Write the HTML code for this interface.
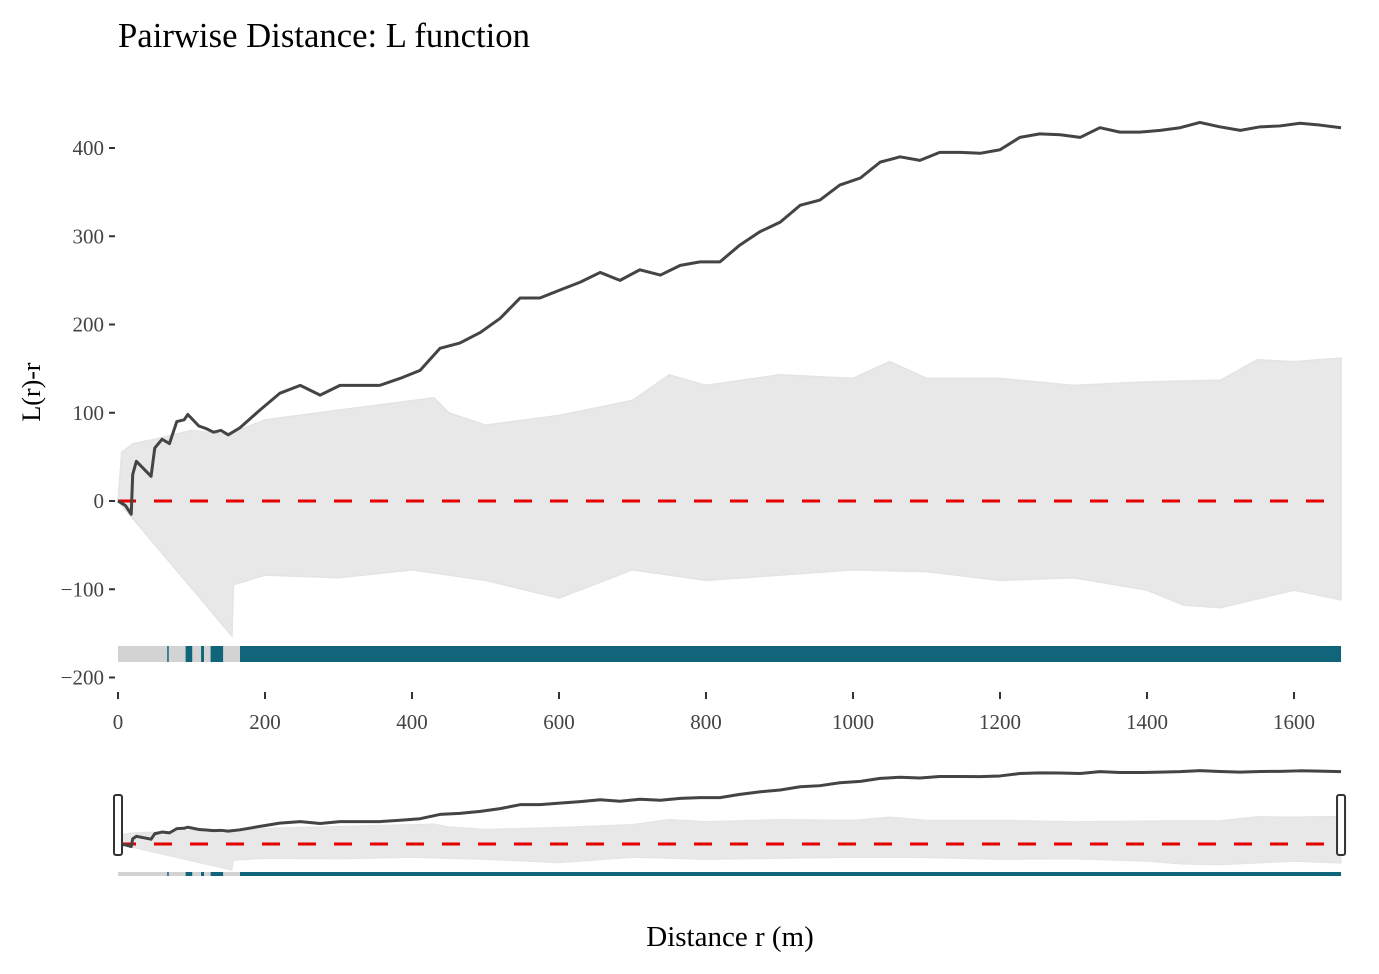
<!DOCTYPE html>
<html><head><meta charset="utf-8"><style>
html,body{margin:0;padding:0;background:#fff;}
svg{display:block;font-family:"Liberation Serif",serif;}
</style></head><body>
<svg id="chart" width="1379" height="974" viewBox="0 0 1379 974" xmlns="http://www.w3.org/2000/svg">
<text x="118" y="47" font-size="34.7" fill="#000">Pairwise Distance: L function</text>
<text transform="translate(40,392) rotate(-90)" text-anchor="middle" font-size="26" fill="#000">L(r)-r</text>
<text x="730" y="946" text-anchor="middle" font-size="29" fill="#000">Distance r (m)</text>
<g id="main"></g>
<g id="nav"></g>
</svg>
<script>
const rObs=[0,10,18,20,25,45,50,60,70,80,90,95,110,120,130,140,150,166,193,220,248,275,302,329,356,384,411,438,465,493,520,547,574,601,629,656,683,710,738,765,792,819,846,873,901,928,955,982,1010,1037,1064,1091,1118,1146,1173,1200,1227,1254,1282,1309,1336,1363,1390,1418,1445,1472,1499,1527,1554,1581,1608,1635,1664];
const lObs=[0,-5,-15,30,45,28,60,70,65,90,92,98,85,82,78,80,75,83,103,122,131,120,131,131,131,139,148,173,179,191,207,230,230,239,248,259,250,262,256,267,271,271,290,305,316,335,341,358,366,384,390,386,395,395,394,398,412,416,415,412,423,418,418,420,423,429,424,420,424,425,428,426,423];
const rUp=[0,5,20,50,100,150,200,300,430,450,500,600,700,750,800,900,1000,1050,1100,1200,1300,1400,1500,1550,1600,1664];
const lUp=[0,55,65,70,80,75,92,103,117,100,86,97,114,143,131,143,139,158,139,139,131,135,137,160,158,162];
const rLo=[0,155,157,200,300,400,500,600,700,800,900,1000,1100,1200,1300,1400,1450,1500,1600,1664];
const lLo=[0,-153,-95,-84,-87,-78,-90,-110,-78,-90,-84,-78,-80,-90,-87,-101,-118,-121,-101,-112];
const stripStart=[67,92,113,126,166];
const stripEnd=[69,101,117,143,1664];
const xTicks=[0,200,400,600,800,1000,1200,1400,1600];
const yTicks=[400,300,200,100,0,-100,-200];
const rMax=1664;

const NS="http://www.w3.org/2000/svg";
const X=r=>118+r*0.735;
const Y=v=>501-v*0.8825;
const NY=v=>844-v*0.171;
function mk(tag,attrs,parent){const e=document.createElementNS(NS,tag);for(const k in attrs)e.setAttribute(k,attrs[k]);parent.appendChild(e);return e;}
function band(yf){let p=rUp.map((r,i)=>X(r)+","+yf(lUp[i]));p=p.concat(rLo.slice().reverse().map((r,i)=>X(r)+","+yf(lLo[rLo.length-1-i])));return p.join(" ");}
function line(yf){return rObs.map((r,i)=>X(r)+","+yf(lObs[i])).join(" ");}
const main=document.getElementById("main");
const nav=document.getElementById("nav");

const env=mk("polygon",{points:band(Y),fill:"#e8e8e9",stroke:"#e1e4e8","stroke-width":1.5},main);


const st=mk("rect",{x:X(0),y:646,width:X(rMax)-X(0),height:16,fill:"#d3d3d3"},main);


stripStart.forEach((s,i)=>{const b=mk("rect",{x:X(s),y:646,width:X(stripEnd[i])-X(s),height:16,fill:"#11657a"},main);

});
const th=mk("line",{x1:X(0),y1:Y(0),x2:X(rMax),y2:Y(0),stroke:"#e60000","stroke-width":3,"stroke-dasharray":"18,18"},main);


const ob=mk("polyline",{points:line(Y),fill:"none",stroke:"#444","stroke-width":3,"stroke-linejoin":"round"},main);



yTicks.forEach(v=>{const t=mk("text",{x:104,y:Y(v)+7,"text-anchor":"end","font-size":21,fill:"#444"},main);t.textContent=v<0?"\u2212"+(-v):v;


const l=mk("line",{x1:109,y1:Y(v),x2:115,y2:Y(v),stroke:"#333","stroke-width":2},main);

});
xTicks.forEach(v=>{const l=mk("line",{x1:X(v),y1:692,x2:X(v),y2:699,stroke:"#333","stroke-width":2},main);


const t=mk("text",{x:X(v),y:729,"text-anchor":"middle","font-size":21,fill:"#444"},main);t.textContent=v;

});

const nenv=mk("polygon",{points:band(NY),fill:"#e8e8e9",stroke:"#e1e4e8","stroke-width":1},nav);


const ns=mk("rect",{x:X(0),y:872,width:X(rMax)-X(0),height:4,fill:"#d3d3d3"},nav);


stripStart.forEach((s,i)=>{const b=mk("rect",{x:X(s),y:872,width:X(stripEnd[i])-X(s),height:4,fill:"#11657a"},nav);

});
const nth=mk("line",{x1:X(0),y1:NY(0),x2:X(rMax),y2:NY(0),stroke:"#e60000","stroke-width":3,"stroke-dasharray":"18,18"},nav);


const nob=mk("polyline",{points:line(NY),fill:"none",stroke:"#444","stroke-width":3,"stroke-linejoin":"round"},nav);


[X(0)-4,X(rMax)-4].forEach((x,i)=>{const h=mk("rect",{x:x,y:795,width:8,height:60,rx:2,fill:"#fff",stroke:"#333","stroke-width":2},nav);

});
</script>
</body></html>
